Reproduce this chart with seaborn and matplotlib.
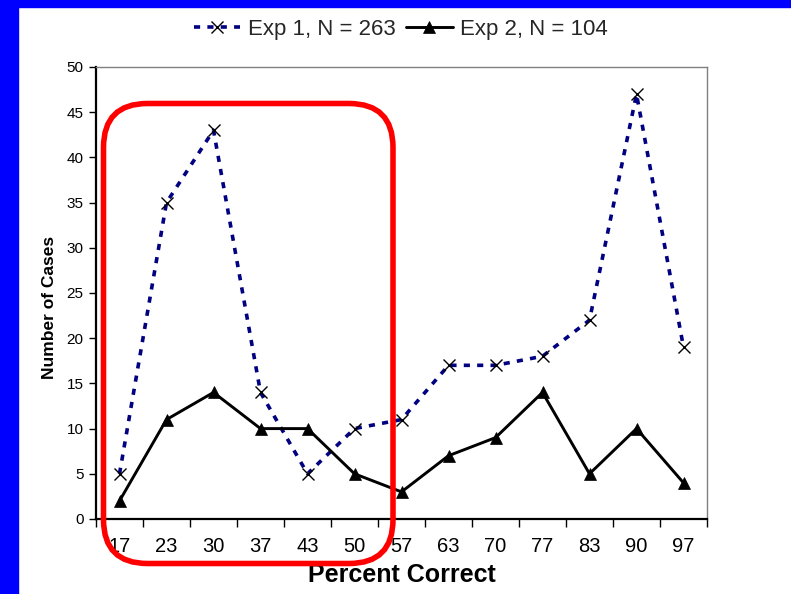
import numpy as np
import pandas as pd
import matplotlib
matplotlib.use("Agg")
import matplotlib.pyplot as plt
from matplotlib.patches import FancyBboxPatch, Rectangle
import seaborn as sns

# ---- data ----
categories = ["17", "23", "30", "37", "43", "50", "57", "63", "70", "77", "83", "90", "97"]
exp1_cases = [5, 35, 43, 14, 5, 10, 11, 17, 17, 18, 22, 47, 19]
exp2_cases = [2, 11, 14, 10, 10, 5, 3, 7, 9, 14, 5, 10, 4]
exp1_label = "Exp 1, N = 263"
exp2_label = "Exp 2, N = 104"
x_title = "Percent Correct"
y_title = "Number of Cases"
y_ticks = [0, 5, 10, 15, 20, 25, 30, 35, 40, 45, 50]

sns.set_style("white")
plt.rcParams["font.family"] = ["Liberation Sans", "DejaVu Sans"]

W, H = 791, 594
fig = plt.figure(figsize=(W / 100, H / 100), dpi=100)
fig.patch.set_facecolor("white")

# blue slide frame (left and top strips)
fig.add_artist(Rectangle((0, 0), 18 / W, 1, transform=fig.transFigure,
                         color="#0000FF", zorder=0))
fig.add_artist(Rectangle((0, 1 - 7 / H), 1, 7 / H, transform=fig.transFigure,
                         color="#0000FF", zorder=0))

left, right, top, bottom = 96, 707, 67, 519
ax = fig.add_axes([left / W, 1 - bottom / H, (right - left) / W, (bottom - top) / H])

pos = np.arange(len(categories))
df = pd.DataFrame({"pos": pos, "exp1": exp1_cases, "exp2": exp2_cases})

sns.lineplot(data=df, x="pos", y="exp1", ax=ax, color="#000080", linewidth=2.6,
             marker="x", markersize=9, markeredgecolor="black", markeredgewidth=1.0,
             label=exp1_label)
sns.lineplot(data=df, x="pos", y="exp2", ax=ax, color="black", linewidth=2.1,
             marker="^", markersize=9, markeredgecolor="black", markerfacecolor="black",
             markeredgewidth=0.5, label=exp2_label)
ax.lines[0].set_dashes([1.7, 2.0])

ax.set_xlim(-0.5, len(categories) - 0.5)
ax.set_ylim(0, 50)
ax.set_yticks(y_ticks)
ax.set_xticks(pos)
ax.set_xticklabels(categories)
ax.set_xticks(np.arange(len(categories) + 1) - 0.5, minor=True)
ax.tick_params(axis="x", which="major", length=0, pad=13, labelsize=14.5, colors="black")
ax.tick_params(axis="x", which="minor", length=6, width=1, direction="out",
               color="black", bottom=True)
ax.tick_params(axis="y", which="major", length=5, width=1, direction="out", left=True,
               pad=4, labelsize=11, colors="black")

for s in ["left", "bottom"]:
    ax.spines[s].set_color("black")
    ax.spines[s].set_linewidth(1.6)
for s in ["top", "right"]:
    ax.spines[s].set_color("#808080")
    ax.spines[s].set_linewidth(1.0)

ax.set_xlabel(x_title, fontsize=18, fontweight="bold", color="black")
ax.xaxis.set_label_coords(0.5, -0.098)
ax.set_ylabel(y_title, fontsize=12.5, fontweight="bold", color="black")
ax.yaxis.set_label_coords(-0.064, 0.469)

handles, labels = ax.get_legend_handles_labels()
ax.get_legend().remove()
fig.legend(handles, labels, loc="center", bbox_to_anchor=(401 / W, 1 - 29 / H),
           ncol=2, frameon=False, fontsize=16, handlelength=2.1,
           handletextpad=0.35, columnspacing=0.45, borderaxespad=0)

# red rounded highlight box (pixel-based via inches)
x0, x1, y0, y1 = 103.5, 393.0, 103.5, 563.5
box = FancyBboxPatch((x0 / 100, (H - y1) / 100), (x1 - x0) / 100, (y1 - y0) / 100,
                     boxstyle="round,pad=0,rounding_size=0.44",
                     transform=fig.dpi_scale_trans, fill=False,
                     edgecolor="#FF0000", linewidth=4.0, zorder=10, clip_on=False)
fig.add_artist(box)

fig.savefig("out.png", dpi=100)
